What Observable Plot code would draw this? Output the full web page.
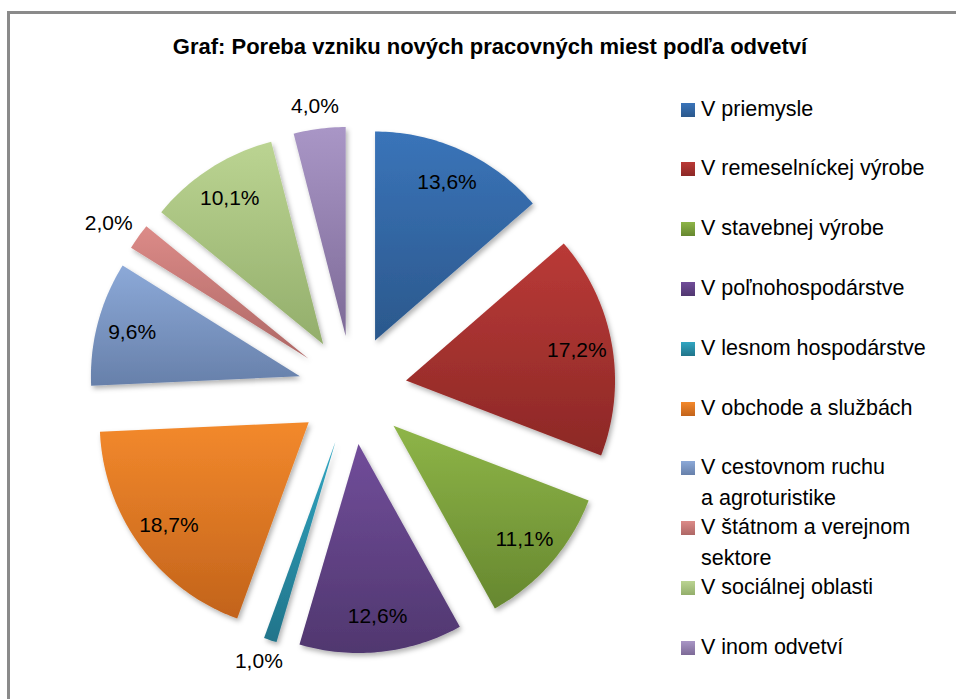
<!DOCTYPE html>
<html>
<head>
<meta charset="utf-8">
<script src="https://cdn.jsdelivr.net/npm/d3@7"></script>
<script src="https://cdn.jsdelivr.net/npm/@observablehq/plot@0.6"></script>
<style>
  html, body { margin: 0; padding: 0; background: #fff; }
  #wrap { position: relative; width: 956px; height: 699px; overflow: hidden; font-family: "Liberation Sans", Arial, sans-serif; }
  #frame { position: absolute; left: 7px; top: 11px; width: 1000px; height: 800px; border-left: 3px solid #8a8a8a; border-top: 3px solid #8a8a8a; }
  #title { position: absolute; left: 0; width: 980px; top: 34px; text-align: center; font-weight: bold; font-size: 22px; color: #000; }
  #chart { position: absolute; left: 0; top: 0; }
  #legend { position: absolute; left: 681px; top: 0; }
  .li { position: absolute; left: 0; width: 270px; font-size: 21.5px; line-height: 31px; color: #000; white-space: pre-line; }
  .sw { position: absolute; left: 0; top: 9px; width: 14px; height: 14px; }
  .lt { position: absolute; left: 20px; top: 0; }
</style>
</head>
<body>
<div id="wrap">
  <div id="frame"></div>
  <div id="chart"></div>
  <div id="title"></div>
  <div id="legend"></div>
</div>
<script>
const title = "Graf: Poreba vzniku nových pracovných miest podľa odvetví";
const categories = [
  "V priemysle",
  "V remeselníckej výrobe",
  "V stavebnej výrobe",
  "V poľnohospodárstve",
  "V lesnom hospodárstve",
  "V obchode a službách",
  "V cestovnom ruchu\na agroturistike",
  "V štátnom a verejnom\nsektore",
  "V sociálnej oblasti",
  "V inom odvetví"
];
const values = [13.6, 17.2, 11.1, 12.6, 1.0, 18.7, 9.6, 2.0, 10.1, 4.0];

// palette (top / bottom of each slice gradient)
const colorTop = ["#3A74B9", "#BA3A37", "#8EB548", "#714D9A", "#31A6C2", "#F3892C", "#8CA9D8", "#DC8B88", "#BBD492", "#A996C6"];
const colorBottom = ["#2B588C", "#8C2826", "#66872F", "#50376F", "#21748A", "#C2631B", "#6780AA", "#AE6765", "#93AE6B", "#7D6A97"];

const R = 209;            // pixel radius
const EXPLODE = 0.26;     // explosion as fraction of radius
const CX = 352, CY = 389.5, W = 660, H = 699;

const total = d3.sum(values);
let acc = 0;
const slices = values.map((v, i) => {
  const a0 = acc / total * 2 * Math.PI;
  acc += v;
  const a1 = acc / total * 2 * Math.PI;
  const mid = (a0 + a1) / 2;
  return {i, cat: categories[i], v, a0, a1, mid, ex: EXPLODE * Math.sin(mid), ey: EXPLODE * Math.cos(mid)};
});

const rows = [];
for (const s of slices) {
  rows.push({cat: s.cat, x: s.ex, y: s.ey});
  const n = Math.max(2, Math.ceil((s.a1 - s.a0) / (Math.PI / 180)));
  for (let k = 0; k <= n; ++k) {
    const a = s.a0 + (s.a1 - s.a0) * k / n;
    rows.push({cat: s.cat, x: s.ex + Math.sin(a), y: s.ey + Math.cos(a)});
  }
}

const fmt = (v) => d3.format(".1f")(v).replace(".", ",") + "%";
const labels = slices.map((s) => {
  const dx = Math.sin(s.mid), dy = Math.cos(s.mid);
  if (s.v < 5) {
    // outside: label box just beyond the arc
    const hw = 26 / R, hh = 12 / R;
    return {text: fmt(s.v), x: s.ex + 1.05 * dx + hw * dx, y: s.ey + 1.05 * dy + hh * dy};
  }
  return {text: fmt(s.v), x: s.ex + 0.83 * dx, y: s.ey + 0.83 * dy};
});

const svg = Plot.plot({
  width: W,
  height: H,
  margin: 0,
  style: {fontFamily: "'Liberation Sans', Arial, sans-serif", background: "transparent"},
  x: {domain: [-CX / R, (W - CX) / R], axis: null},
  y: {domain: [-(H - CY) / R, CY / R], axis: null},
  color: {domain: categories, range: categories.map((c, i) => `url(#g${i})`)},
  marks: [
    Plot.line(rows, {x: "x", y: "y", z: "cat", fill: "cat", stroke: "none", curve: "linear-closed"}),
    Plot.text(labels, {x: "x", y: "y", text: "text", fontSize: 21, fill: "#000"})
  ]
});

const defs = d3.select(svg).insert("defs", ":first-child");
colorTop.forEach((c, i) => {
  const g = defs.append("linearGradient").attr("id", `g${i}`).attr("x1", 0).attr("y1", 0).attr("x2", 0).attr("y2", 1);
  g.append("stop").attr("offset", "0%").attr("stop-color", c);
  g.append("stop").attr("offset", "100%").attr("stop-color", colorBottom[i]);
});
const f = defs.append("filter").attr("id", "shadow").attr("x", "-10%").attr("y", "-10%").attr("width", "130%").attr("height", "130%");
f.append("feDropShadow").attr("dx", 2).attr("dy", 3).attr("stdDeviation", 2.5).attr("flood-color", "#000").attr("flood-opacity", 0.3);
d3.select(svg).selectAll('g[aria-label="line"] path').attr("filter", "url(#shadow)");

document.getElementById("chart").appendChild(svg);
document.getElementById("title").textContent = title;

const legend = document.getElementById("legend");
categories.forEach((c, i) => {
  const li = document.createElement("div");
  li.className = "li";
  li.style.top = (109 - 15.5 + i * 59.8) + "px";
  const sw = document.createElement("div");
  sw.className = "sw";
  sw.style.background = `linear-gradient(${colorTop[i]}, ${colorBottom[i]})`;
  const t = document.createElement("div");
  t.className = "lt";
  t.textContent = c;
  li.appendChild(sw);
  li.appendChild(t);
  legend.appendChild(li);
});
</script>
</body>
</html>
